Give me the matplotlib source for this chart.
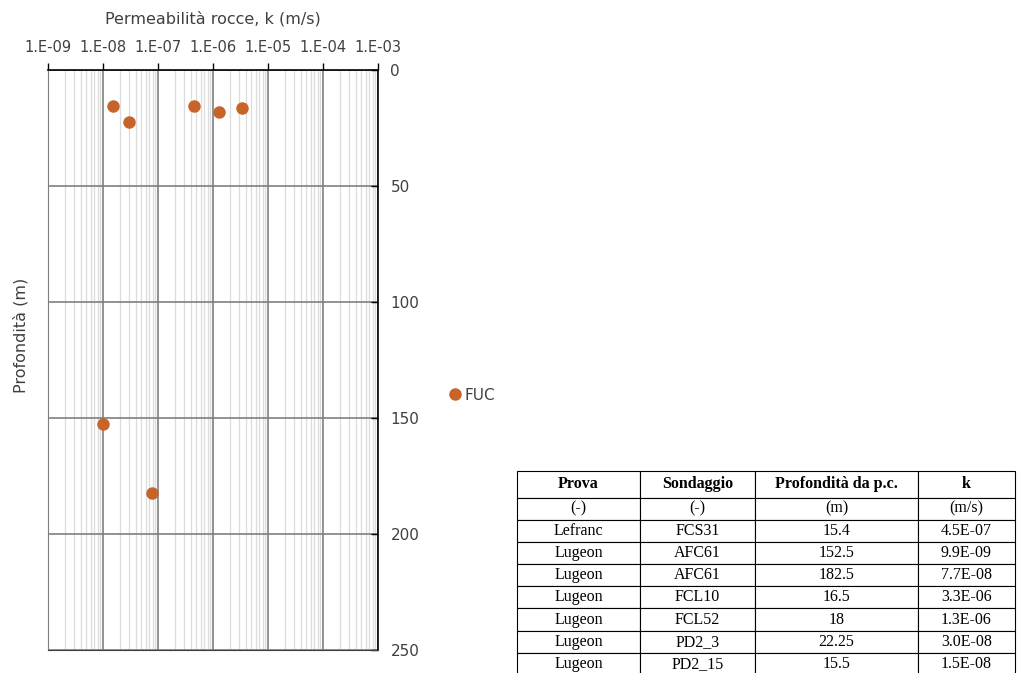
import math
import matplotlib.pyplot as plt
from matplotlib.ticker import LogLocator, FixedLocator, FuncFormatter

# prove di permeabilità (unità FUC)
prova = ['Lefranc', 'Lugeon', 'Lugeon', 'Lugeon', 'Lugeon', 'Lugeon', 'Lugeon']
sondaggio = ['FCS31', 'AFC61', 'AFC61', 'FCL10', 'FCL52', 'PD2_3', 'PD2_15']
profondita = [15.4, 152.5, 182.5, 16.5, 18, 22.25, 15.5]
k = [4.5e-07, 9.9e-09, 7.7e-08, 3.3e-06, 1.3e-06, 3.0e-08, 1.5e-08]

col_labels = ['Prova', 'Sondaggio', 'Profondità da p.c.', 'k']
unit_labels = ['(-)', '(-)', '(m)', '(m/s)']
k_ticks = [1e-9, 1e-8, 1e-7, 1e-6, 1e-5, 1e-4, 1e-3]
depth_ticks = [0, 50, 100, 150, 200, 250]

TEXT_COLOR = '#404040'
MARKER_COLOR = '#C8642A'

plt.rcParams['font.family'] = 'DejaVu Sans'

fig = plt.figure(figsize=(10.18, 6.73), dpi=100)
ax = fig.add_axes([48 / 1018, 1 - 650 / 673, 330 / 1018, 580 / 673])

ax.plot(k, profondita, 'o', color=MARKER_COLOR, markersize=9,
        label='FUC', zorder=3, markeredgewidth=0)

ax.set_xscale('log')
ax.set_xlim(k_ticks[0], k_ticks[-1])
ax.set_ylim(depth_ticks[-1], depth_ticks[0])

ax.xaxis.set_major_locator(FixedLocator(k_ticks))
ax.xaxis.set_minor_locator(LogLocator(base=10, subs=range(2, 10), numticks=100))
ax.xaxis.set_major_formatter(FuncFormatter(lambda v, p: '1.E%+03d' % round(math.log10(v))))
ax.yaxis.set_major_locator(FixedLocator(depth_ticks))

ax.xaxis.tick_top()
ax.xaxis.set_label_position('top')
ax.yaxis.tick_right()
ax.tick_params(axis='x', which='major', direction='out', length=5,
               width=1, color='black', labelsize=10.5, labelcolor=TEXT_COLOR, pad=6)
ax.tick_params(axis='x', which='minor', length=0)
ax.tick_params(axis='y', which='major', direction='in', length=5,
               width=1, color='black', labelsize=11, labelcolor=TEXT_COLOR, pad=9)

ax.grid(True, which='major', color='#7f7f7f', linewidth=1.2)
ax.grid(True, which='minor', axis='x', color='#dcdcdc', linewidth=0.9)

ax.spines['top'].set_color('black')
ax.spines['right'].set_color('black')
ax.spines['top'].set_linewidth(1.2)
ax.spines['right'].set_linewidth(1.2)
ax.spines['left'].set_color('#7f7f7f')
ax.spines['bottom'].set_color('#404040')

ax.set_xlabel('Permeabilità rocce, k (m/s)', fontsize=11.5, color=TEXT_COLOR, labelpad=12)
ax.set_ylabel('Profondità (m)', fontsize=11.5, color=TEXT_COLOR)
ax.yaxis.set_label_coords(-0.058, 0.543)

fig.legend(loc='center left', bbox_to_anchor=(440 / 1018, 1 - 395 / 673),
           frameon=False, fontsize=11, handletextpad=0.0, handlelength=1.2,
           labelcolor=TEXT_COLOR, borderaxespad=0)

# tabella riassuntiva
tab_ax = fig.add_axes([517 / 1018, 1 - 675 / 673, 498 / 1018, 204 / 673])
tab_ax.axis('off')
rows = [unit_labels] + [[p, s, f'{d:g}', f'{v:.1E}']
                        for p, s, d, v in zip(prova, sondaggio, profondita, k)]
widths = [123, 115, 163, 97]
tab = tab_ax.table(cellText=rows, colLabels=col_labels, cellLoc='center',
                   colWidths=[w / sum(widths) for w in widths],
                   bbox=[0, 0, 1, 1])
tab.auto_set_font_size(False)
base_h = tab[1, 0].get_height()
for (r, c), cell in tab.get_celld().items():
    cell.set_edgecolor('black')
    cell.set_linewidth(0.8)
    cell.get_text().set_fontfamily('Liberation Serif')
    cell.get_text().set_fontsize(11.5)
    if r == 0:
        cell.get_text().set_fontweight('bold')
        cell.set_height(base_h * 1.2)

fig.savefig('out.png', dpi=100)
